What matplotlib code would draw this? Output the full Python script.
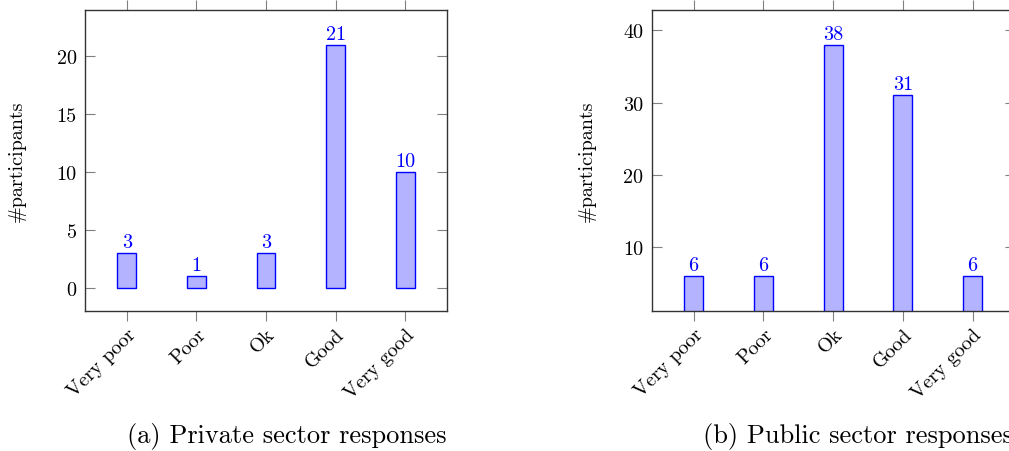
import matplotlib
matplotlib.use("Agg")
import matplotlib.pyplot as plt
import numpy as np

plt.rcParams['font.family'] = ['cmr10', 'DejaVu Serif']
plt.rcParams['mathtext.fontset'] = 'cm'
plt.rcParams['axes.formatter.use_mathtext'] = True

categories = ["Very poor", "Poor", "Ok", "Good", "Very good"]
private_values = [3, 1, 3, 21, 10]
public_values = [6, 6, 38, 31, 6]
private_yticks = [0, 5, 10, 15, 20]
public_yticks = [10, 20, 30, 40]
captions = ["(a) Private sector responses", "(b) Public sector responses"]
ylabel = "#participants"

fig = plt.figure(figsize=(10.09, 4.52), dpi=100)

W, H = 1009, 452
ax1 = fig.add_axes([85 / W, 1 - 312 / H, (447 - 85) / W, (312 - 11) / H])
ax2 = fig.add_axes([651.7 / W, 1 - 312 / H, (1014.5 - 651.7) / W, (312 - 11) / H])

FS = 14.5

def style(ax, values, yticks, ylim, lpad):
    x = np.arange(len(values))
    ax.bar(x, values, width=0.27, color='#b3b3ff', edgecolor='#0000ff', linewidth=1.0, zorder=2)
    for xi, v in zip(x, values):
        ax.annotate(str(v), (xi, v), xytext=(0, 1.5), textcoords='offset points',
                    ha='center', va='bottom', color='#0000ff', fontsize=FS)
    ax.set_xlim(-0.6, len(values) - 0.4)
    ax.set_ylim(*ylim)
    ax.set_xticks(x)
    ax.set_xticklabels(categories, rotation=45, ha='right', rotation_mode='anchor', fontsize=FS)
    ax.set_yticks(yticks)
    ax.set_yticklabels([str(t) for t in yticks], fontsize=FS)
    ax.tick_params(axis='x', which='both', direction='out', top=True, bottom=True,
                   length=7, width=0.8, color='#808080', pad=3)
    ax.tick_params(axis='y', which='both', direction='in', left=True, right=True,
                   length=7, width=0.8, color='#808080', pad=6)
    for s in ax.spines.values():
        s.set_color('#333333')
        s.set_linewidth(1.0)
    ax.set_ylabel(ylabel, fontsize=FS, labelpad=lpad)

style(ax1, private_values, private_yticks, (-2, 24), 22)
style(ax2, public_values, public_yticks, (1.2, 42.8), 20)

fig.text(287 / W, 1 - 437 / H, captions[0], ha='center', va='center', fontsize=19)
fig.text(858 / W, 1 - 437 / H, captions[1], ha='center', va='center', fontsize=19)

fig.savefig("out.png", dpi=100)
